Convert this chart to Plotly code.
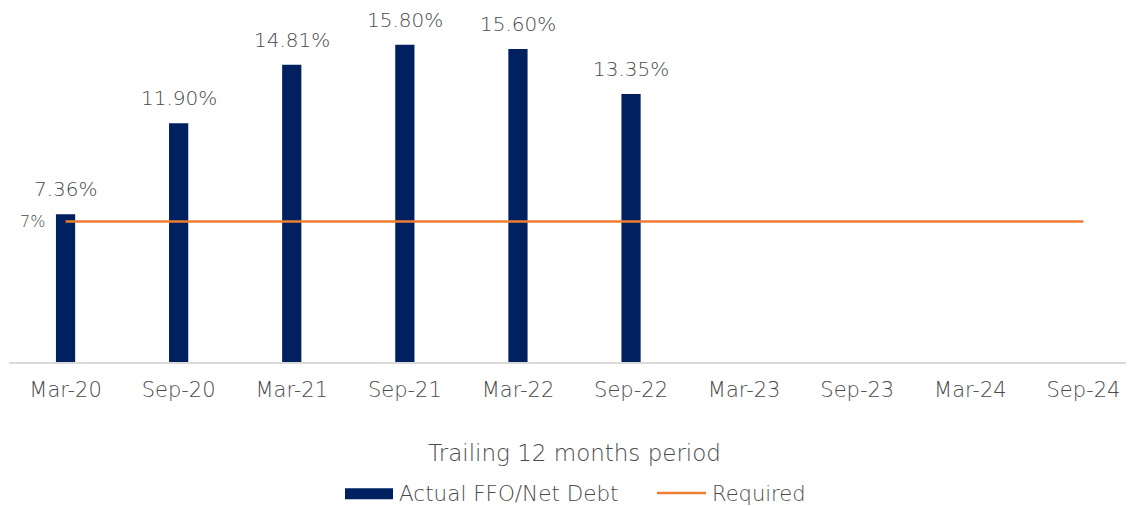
import plotly.graph_objects as go

categories = ["Mar-20", "Sep-20", "Mar-21", "Sep-21", "Mar-22", "Sep-22",
              "Mar-23", "Sep-23", "Mar-24", "Sep-24"]
actual = [7.36, 11.90, 14.81, 15.80, 15.60, 13.35, None, None, None, None]
required = [7, 7, 7, 7, 7, 7, 7, 7, 7, 7]
series_names = ["Actual FFO/Net Debt", "Required"]

FONT = "DejaVu Sans"
W = 200
GRAY = "#4a4a4a"
BAR_COLOR = "#002060"
LINE_COLOR = "#ED7D31"

# layout geometry (page has an 8px body offset)
L, R, T, B = 1, 2, 0, 151.5
FIG_W, FIG_H = 1134, 506
PW = FIG_W - L - R
PH = FIG_H - T - B


def px(fx):
    return (fx - L) / PW


def py(fy):
    return (T + PH - fy) / PH


fig = go.Figure()
fig.add_trace(go.Bar(
    x=categories, y=actual, name=series_names[0],
    marker=dict(color=BAR_COLOR, line=dict(width=0)), width=0.17, showlegend=False,
))
fig.add_trace(go.Scatter(
    x=categories, y=required, name=series_names[1], mode="lines",
    line=dict(color=LINE_COLOR, width=2.5), showlegend=False,
))

for c, v in zip(categories, actual):
    if v is None:
        continue
    fig.add_annotation(x=c, y=v, text=f"{v:.2f}%", showarrow=False,
                       yanchor="bottom", yshift=11,
                       font=dict(family=FONT, size=20, weight=W, color=GRAY))

fig.add_annotation(xref="paper", x=px(24), y=required[0], text=f"{required[0]}%",
                   showarrow=False, xanchor="center",
                   font=dict(family=FONT, size=16, weight=W, color=GRAY))

# custom legend
fig.add_shape(type="rect", xref="paper", yref="paper",
              x0=px(337), x1=px(385), y0=py(481), y1=py(492),
              fillcolor=BAR_COLOR, line=dict(width=0))
fig.add_shape(type="line", xref="paper", yref="paper",
              x0=px(649), x1=px(698), y0=py(485.7), y1=py(485.7),
              line=dict(color=LINE_COLOR, width=2.5))
fig.add_annotation(xref="paper", yref="paper", x=px(389), y=py(486.5),
                   xanchor="left", yanchor="middle", showarrow=False,
                   text=series_names[0],
                   font=dict(family=FONT, size=21.5, weight=W, color=GRAY))
fig.add_annotation(xref="paper", yref="paper", x=px(702), y=py(486.5),
                   xanchor="left", yanchor="middle", showarrow=False,
                   text=series_names[1],
                   font=dict(family=FONT, size=21, weight=W, color=GRAY))

fig.update_layout(
    width=FIG_W, height=FIG_H,
    margin=dict(l=L, r=R, t=T, b=B, autoexpand=False),
    plot_bgcolor="white", paper_bgcolor="white",
    font=dict(family=FONT, color=GRAY, weight=W),
    showlegend=False,
    xaxis=dict(
        type="category", range=[-0.5, 9.5],
        showline=True, linecolor="#D9D9D9", linewidth=1.5,
        showgrid=False, ticks="", ticklabelstandoff=8,
        tickfont=dict(family=FONT, size=21, weight=W, color=GRAY),
        title=dict(text="Trailing 12 months period",
                   font=dict(family=FONT, size=23, weight=W, color=GRAY), standoff=44),
    ),
    yaxis=dict(range=[0, PH / 20.1], visible=False, showgrid=False, zeroline=False),
)

fig.write_html("out.html")
